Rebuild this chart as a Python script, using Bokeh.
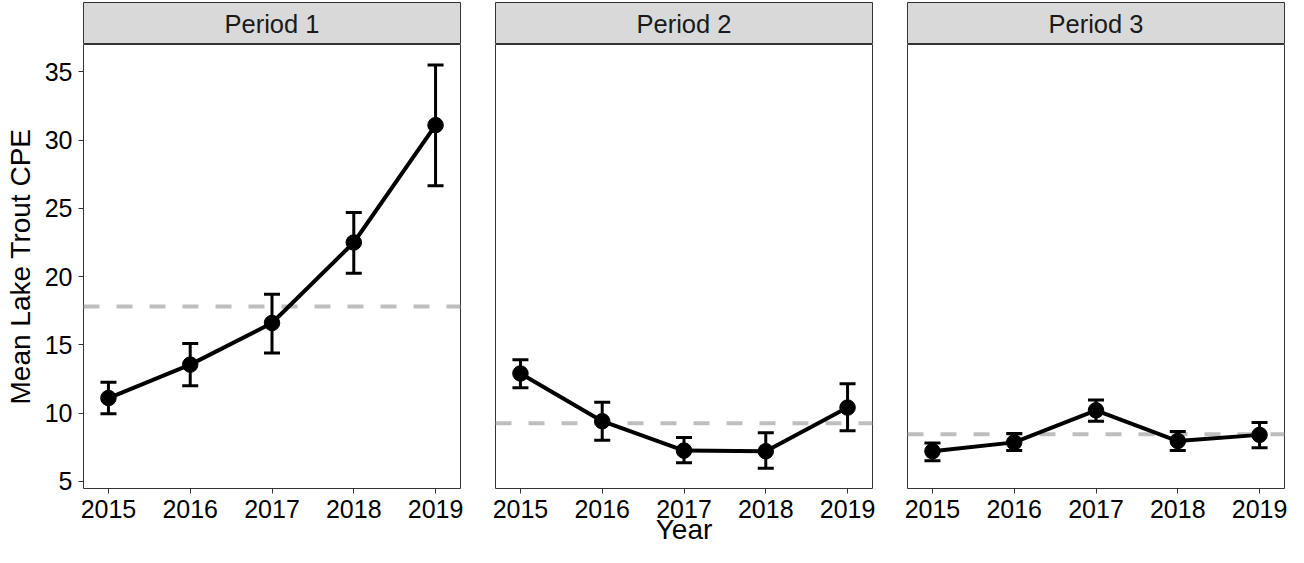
from bokeh.plotting import figure
from bokeh.layouts import row, column
from bokeh.models import Range1d, FixedTicker, Span
from bokeh.core.properties import value
from bokeh.embed import file_html
from bokeh.resources import INLINE

# ---------------- data ----------------
years = [2015, 2016, 2017, 2018, 2019]
periods = ["Period 1", "Period 2", "Period 3"]

p1_mean = [11.1, 13.55, 16.6, 22.5, 31.1]
p1_lower = [9.95, 12.0, 14.4, 20.25, 26.65]
p1_upper = [12.25, 15.1, 18.7, 24.7, 35.5]

p2_mean = [12.9, 9.4, 7.25, 7.2, 10.4]
p2_lower = [11.85, 8.0, 6.35, 5.95, 8.7]
p2_upper = [13.9, 10.8, 8.2, 8.55, 12.15]

p3_mean = [7.2, 7.85, 10.2, 7.95, 8.4]
p3_lower = [6.5, 7.25, 9.4, 7.25, 7.45]
p3_upper = [7.8, 8.5, 10.95, 8.65, 9.3]

reference_cpe = [17.8, 9.25, 8.45]

y_ticks = [5, 10, 15, 20, 25, 30, 35]
x_label = "Year"
y_label = "Mean Lake Trout CPE"

FONT = "Liberation Sans"
BORDER = "#333333"


def make_panel(idx, mean, lower, upper, ref, left_b, frame_w, right_b, show_y, show_xlabel):
    width = left_b + frame_w + right_b

    # strip (facet header)
    strip = figure(width=width, height=44, x_range=Range1d(0, 1), y_range=Range1d(0, 1),
                   x_axis_type=None, y_axis_type=None, toolbar_location=None,
                   output_backend="svg", min_border_left=left_b, min_border_right=right_b,
                   min_border_top=2, min_border_bottom=0)
    strip.background_fill_color = "#D9D9D9"
    strip.border_fill_color = "white"
    strip.outline_line_color = BORDER
    strip.outline_line_width = 1
    strip.text(x=[0.5], y=[0.5], text=[periods[idx]], text_align="center",
               text_baseline="middle", text_font=value(FONT), text_font_size="25.5px",
               text_color="#1A1A1A")

    # main panel
    p = figure(width=width, height=503, x_range=Range1d(2014.695, 2019.305),
               y_range=Range1d(4.47, 37.01), toolbar_location=None, output_backend="svg",
               min_border_left=left_b, min_border_right=right_b, min_border_top=0,
               min_border_bottom=59, y_axis_location="left" if show_y else None)
    p.grid.visible = False
    p.background_fill_color = "white"
    p.border_fill_color = "white"
    p.outline_line_color = BORDER
    p.outline_line_width = 1

    p.xaxis.ticker = FixedTicker(ticks=years)
    axes = [p.xaxis[0]]
    if show_y:
        p.yaxis.ticker = FixedTicker(ticks=y_ticks)
        p.yaxis.axis_label = y_label
        p.yaxis.axis_label_standoff = 6
        axes.append(p.yaxis[0])
    if show_xlabel:
        p.xaxis.axis_label = x_label
        p.xaxis.axis_label_standoff = -7
    for ax in axes:
        ax.axis_line_color = None
        ax.major_tick_line_color = BORDER
        ax.major_tick_line_width = 1
        ax.major_tick_out = 5
        ax.major_tick_in = 0
        ax.minor_tick_line_color = None
        ax.major_label_text_font = FONT
        ax.major_label_text_font_size = "25px"
        ax.major_label_text_color = "black"
        ax.axis_label_text_font = FONT
        ax.axis_label_text_font_size = "28px"
        ax.axis_label_text_font_style = "normal"
        ax.axis_label_text_color = "black"
    p.xaxis.major_label_standoff = 6
    if show_y:
        p.yaxis.major_label_standoff = 6

    span = Span(location=ref, dimension="width", line_color="#BEBEBE", line_width=4,
                line_dash="16 17", level="underlay")
    p.add_layout(span)

    p.segment(x0=years, y0=lower, x1=years, y1=upper, line_color="black", line_width=3)
    p.scatter(x=years, y=upper, marker="dash", size=16, line_color="black", line_width=3)
    p.scatter(x=years, y=lower, marker="dash", size=16, line_color="black", line_width=3)
    p.line(x=years, y=mean, line_color="black", line_width=4)
    p.scatter(x=years, y=mean, size=15.5, fill_color="black", line_color="black", line_width=1)

    return column(strip, p, spacing=0)


c1 = make_panel(0, p1_mean, p1_lower, p1_upper, reference_cpe[0], 83, 377, 17, True, False)
c2 = make_panel(1, p2_mean, p2_lower, p2_upper, reference_cpe[1], 18, 377, 17, False, True)
c3 = make_panel(2, p3_mean, p3_lower, p3_upper, reference_cpe[2], 18, 377, 4, False, False)

layout = row(c1, c2, c3, spacing=0)

open("out.html", "w").write(file_html(layout, INLINE))
